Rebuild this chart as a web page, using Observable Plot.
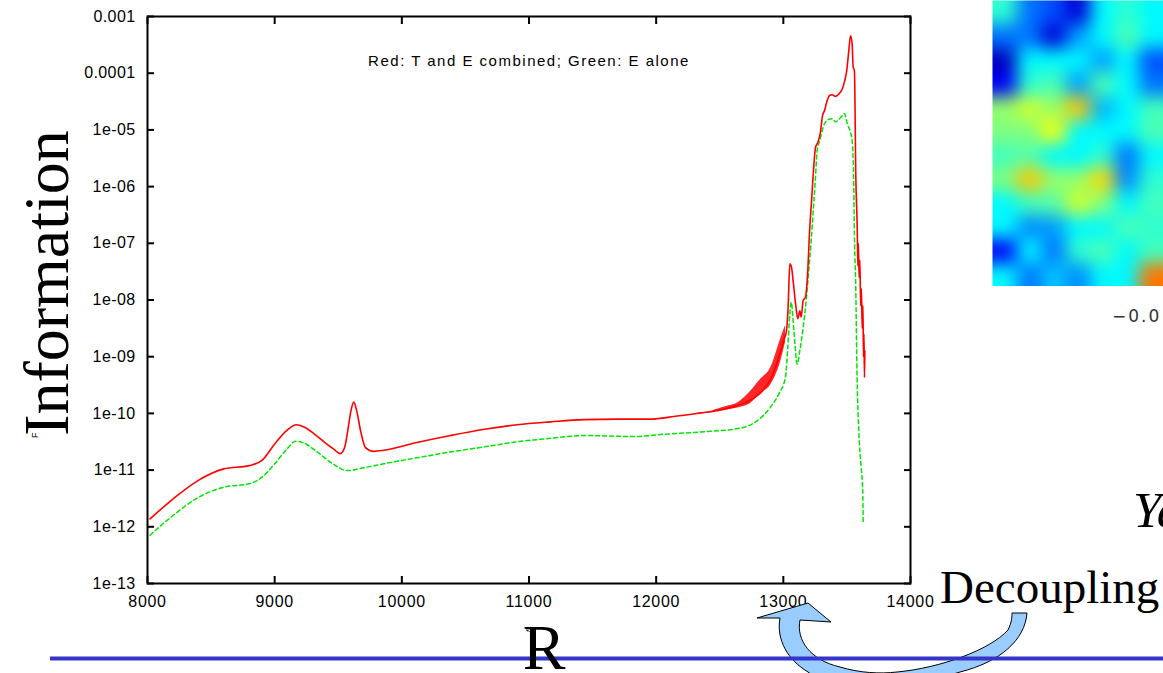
<!DOCTYPE html>
<html>
<head>
<meta charset="utf-8">
<script src="https://cdn.jsdelivr.net/npm/d3@7"></script>
<script src="https://cdn.jsdelivr.net/npm/@observablehq/plot@0.6"></script>
<style>
  html, body { margin: 0; padding: 0; background: #fff; }
  #page { position: relative; width: 1163px; height: 673px; overflow: hidden; background: #fff; }
  #main { position: absolute; left: 0; top: 0; }
  #heat { position: absolute; left: 992px; top: 0; }
  #overlay { position: absolute; left: 0; top: 0; }
  #main .legend-note text { letter-spacing: 1.5px; }
  #main g[aria-label="x-axis tick label"] text { letter-spacing: 0.7px; }
  #main g[aria-label="y-axis tick label"] text { letter-spacing: 0.4px; }
</style>
</head>
<body>
<div id="page">
  <div id="heat"></div>
  <div id="main"></div>
  <svg id="overlay" width="1163" height="673" viewBox="0 0 1163 673">
    <path d="M 1027 613 C 1025 640, 1000 662, 960 672 C 900 692, 830 692, 808 672 C 788 660, 776 640, 780 618 L 757 618 L 808 603 L 831 622 L 800 620 C 796 640, 810 660, 840 667 C 860 673, 880 674, 897 672 C 940 668, 990 650, 1008 630 C 1012 622, 1012 616, 1012 613 Z"
          fill="#99ccff" stroke="#000" stroke-width="1"/>
    <rect x="50" y="656.5" width="1113" height="4" fill="#3535c8"/>
    <text transform="translate(68,283) rotate(-90)" text-anchor="middle" font-family="'Liberation Serif', 'Times New Roman', serif" font-size="64" fill="#000">Information</text>
    <text transform="translate(38,438) rotate(-90)" font-family="'Liberation Sans', Arial, sans-serif" font-size="9" fill="#000">F</text>
    <text x="544" y="669" text-anchor="middle" font-family="'Liberation Serif', 'Times New Roman', serif" font-size="64" fill="#000">R</text>
    <text transform="translate(531,633) rotate(-70)" font-family="'Liberation Sans', Arial, sans-serif" font-size="8" fill="#000">f</text>
    <text x="940" y="603" font-family="'Liberation Serif', 'Times New Roman', serif" font-size="47" fill="#000">Decoupling</text>
    <text x="1133" y="527" font-family="'Liberation Serif', 'Times New Roman', serif" font-style="italic" font-size="51" fill="#000">Ya</text>
    <text x="1112" y="322" font-family="'DejaVu Sans', sans-serif" font-size="17" letter-spacing="2" fill="#333">−0.0</text>
  </svg>
</div>
<script>
// ---------- data ----------
const xTicks = [8000, 9000, 10000, 11000, 12000, 13000, 14000];
const yTicks = [1e-13, 1e-12, 1e-11, 1e-10, 1e-9, 1e-8, 1e-7, 1e-6, 1e-5, 1e-4, 1e-3];
const yTickLabels = ["1e-13", "1e-12", "1e-11", "1e-10", "1e-09", "1e-08", "1e-07", "1e-06", "1e-05", "0.0001", "0.001"];
const legendText = "Red: T and E combined; Green: E alone";

// Red: T and E combined
const redR = [8020, 8200, 8400, 8600, 8800, 8900, 9000, 9100, 9170, 9230, 9310, 9400, 9465, 9515, 9550, 9575, 9600, 9622, 9645, 9675, 9714, 9780, 9858, 10100, 10383, 10650, 10907, 11170, 11431, 11700, 11955, 12150, 12349, 12480, 12600, 12700, 12800, 12900, 12977, 13004, 13025, 13038, 13051, 13064, 13077, 13096, 13114, 13130, 13140, 13156, 13174, 13193, 13206, 13222, 13232, 13253, 13271, 13292, 13308, 13324, 13345, 13365, 13384, 13410, 13431, 13463, 13483, 13497, 13515, 13528, 13541, 13549, 13559, 13570, 13581, 13586, 13590, 13596, 13602, 13608, 13614, 13620, 13626, 13630, 13634, 13638, 13641];
const redV = [1.38e-12, 3.09e-12, 6.6e-12, 1.05e-11, 1.2e-11, 1.48e-11, 2.88e-11, 5.1e-11, 6.3e-11, 5.75e-11, 4.37e-11, 3.0e-11, 2.34e-11, 1.95e-11, 2.5e-11, 5.0e-11, 1.12e-10, 1.58e-10, 1.12e-10, 5.0e-11, 2.5e-11, 2.14e-11, 2.24e-11, 3.0e-11, 4.07e-11, 5.25e-11, 6.3e-11, 7.08e-11, 7.76e-11, 7.94e-11, 7.94e-11, 8.9e-11, 1.02e-10, 1.12e-10, 1.29e-10, 1.55e-10, 2.09e-10, 3.98e-10, 1.2e-9, 1.95e-9, 2.88e-9, 7.9e-9, 4.37e-8, 3.8e-8, 2.19e-8, 8.7e-9, 4.68e-9, 6.46e-9, 5.0e-9, 9.8e-9, 1.12e-8, 3.55e-8, 1.58e-7, 5.6e-7, 1.29e-6, 4.9e-6, 6.0e-6, 9.1e-6, 1.78e-5, 2.19e-5, 3.3e-5, 4.07e-5, 4.17e-5, 3.9e-5, 4.17e-5, 5.25e-5, 7.4e-5, 1.05e-4, 2.5e-4, 4.57e-4, 3.3e-4, 1.29e-4, 1.12e-4, 1.48e-6, 1.9e-7, 4.0e-8, 1.0e-7, 2.5e-8, 5.0e-8, 7.9e-9, 1.58e-8, 3.2e-9, 7.9e-9, 1.0e-9, 2.5e-9, 4.3e-10, 1.26e-9];

// Red oscillation envelope (dense sawtooth region)
const bandR = [12450, 12550, 12650, 12740, 12820, 12900, 12977, 13017];
const bandLow = [1.07e-10, 1.15e-10, 1.26e-10, 1.48e-10, 2.24e-10, 3.16e-10, 7.9e-10, 1.78e-9];
const bandHigh = [1.12e-10, 1.32e-10, 1.58e-10, 2.4e-10, 3.98e-10, 6.3e-10, 2.0e-9, 3.55e-9];

// Green: E alone
const greenR = [8020, 8200, 8400, 8600, 8800, 8890, 9000, 9100, 9165, 9230, 9334, 9465, 9570, 9700, 9858, 10100, 10383, 10650, 10907, 11170, 11431, 11650, 11824, 12050, 12349, 12663, 12794, 12899, 12964, 13017, 13035, 13051, 13062, 13083, 13109, 13130, 13156, 13182, 13200, 13219, 13239, 13253, 13266, 13287, 13313, 13345, 13384, 13410, 13431, 13463, 13481, 13502, 13528, 13541, 13554, 13559, 13570, 13578, 13594, 13612, 13624, 13628];
const greenV = [7.1e-13, 1.58e-12, 3.3e-12, 5.0e-12, 5.75e-12, 7.2e-12, 1.29e-11, 2.4e-11, 3.24e-11, 3.0e-11, 2.09e-11, 1.26e-11, 9.8e-12, 1.1e-11, 1.29e-11, 1.62e-11, 2.09e-11, 2.57e-11, 3.16e-11, 3.63e-11, 4.07e-11, 3.98e-11, 3.9e-11, 4.27e-11, 4.7e-11, 5.5e-11, 7.4e-11, 1.29e-10, 2.19e-10, 4.37e-10, 1.48e-9, 5.75e-9, 9.1e-9, 2.9e-9, 7.4e-10, 1.29e-9, 3.3e-9, 1.12e-8, 3.3e-8, 1.12e-7, 5.0e-7, 1.48e-6, 4.37e-6, 6.5e-6, 1.12e-5, 1.48e-5, 1.58e-5, 1.38e-5, 1.48e-5, 1.78e-5, 1.95e-5, 1.29e-5, 9.1e-6, 6.5e-6, 9.8e-7, 1.48e-7, 1.48e-8, 7.6e-10, 4.5e-11, 1.12e-11, 4.4e-12, 1.2e-12];

// Map fragment (top right), coarse grid of estimated field values (rows top to bottom)
const heatCols = 7;
const heatRowsCount = 12;
const heatRow0  = [0.42, 0.24, 0.20, 0.08, 0.37, 0.42, 0.37];
const heatRow1  = [0.24, 0.24, 0.08, 0.28, 0.37, 0.45, 0.37];
const heatRow2  = [0.05, 0.37, 0.37, 0.37, 0.28, 0.37, 0.20];
const heatRow3  = [0.12, 0.42, 0.45, 0.28, 0.45, 0.37, 0.24];
const heatRow4  = [0.52, 0.58, 0.52, 0.68, 0.30, 0.37, 0.44];
const heatRow5  = [0.50, 0.50, 0.62, 0.37, 0.37, 0.37, 0.45];
const heatRow6  = [0.44, 0.46, 0.37, 0.37, 0.42, 0.24, 0.37];
const heatRow7  = [0.50, 0.68, 0.52, 0.52, 0.66, 0.26, 0.42];
const heatRow8  = [0.37, 0.44, 0.46, 0.58, 0.50, 0.37, 0.44];
const heatRow9  = [0.37, 0.26, 0.28, 0.37, 0.37, 0.45, 0.42];
const heatRow10 = [0.12, 0.37, 0.24, 0.42, 0.45, 0.37, 0.44];
const heatRow11 = [0.37, 0.24, 0.32, 0.26, 0.37, 0.37, 0.76];

// ---------- tables ----------
const red = redR.map((r, i) => ({r, v: redV[i]}));
const green = greenR.map((r, i) => ({r, v: greenV[i]}));
const band = bandR.map((r, i) => ({r, lo: bandLow[i], hi: bandHigh[i]}));
const heatRows = [heatRow0, heatRow1, heatRow2, heatRow3, heatRow4, heatRow5, heatRow6, heatRow7, heatRow8, heatRow9, heatRow10, heatRow11];
const heatPoints = heatRows.flatMap((row, j) => row.map((v, i) => ({cx: i + 0.5, cy: j + 0.5, v})));
const yLabel = new Map(yTicks.map((t, i) => [t, yTickLabels[i]]));

// ---------- main chart ----------
const font = "'Liberation Sans', Arial, Helvetica, sans-serif";
const chart = Plot.plot({
  width: 930,
  height: 620,
  marginLeft: 147,
  marginRight: 20,
  marginTop: 16,
  marginBottom: 37,
  style: {fontFamily: font, fontSize: "16px", background: "transparent", color: "#000", overflow: "visible"},
  x: {domain: [8000, 14000], label: null},
  y: {type: "log", domain: [1e-13, 1e-3], label: null},
  marks: [
    Plot.areaY(band, {x: "r", y1: "lo", y2: "hi", fill: "#ff0000", fillOpacity: 0.85, curve: "monotone-x"}),
    Plot.line(green, {x: "r", y: "v", stroke: "#00e600", strokeWidth: 1.5, strokeDasharray: "4,3", curve: "monotone-x"}),
    Plot.line(red, {x: "r", y: "v", stroke: "#ff0000", strokeWidth: 1.6, curve: "monotone-x"}),
    Plot.axisX({anchor: "bottom", ticks: xTicks, tickSize: -7, tickPadding: 19, strokeWidth: 2, fontSize: 16, tickFormat: d => String(d), label: null}),
    Plot.axisX({anchor: "top", ticks: xTicks, tickSize: -7, strokeWidth: 2, tickFormat: () => "", label: null}),
    Plot.axisY({anchor: "left", ticks: yTicks, tickSize: -7, tickPadding: 19, strokeWidth: 2, fontSize: 16, tickFormat: d => yLabel.get(d) ?? "", label: null}),
    Plot.axisY({anchor: "right", ticks: yTicks, tickSize: -7, strokeWidth: 2, tickFormat: () => "", label: null}),
    Plot.frame({stroke: "#000", strokeWidth: 2}),
    Plot.text([legendText], {frameAnchor: "top", dy: 45, lineAnchor: "middle", text: d => d, fontSize: 15, fill: "#000", className: "legend-note"})
  ]
});
document.getElementById("main").appendChild(chart);

// ---------- map fragment ----------
const heat = Plot.plot({
  width: 175,
  height: 293,
  margin: 0,
  x: {domain: [0, heatCols], axis: null},
  y: {domain: [0, heatRowsCount], axis: null, reverse: true},
  color: {type: "linear", domain: [0, 0.125, 0.375, 0.625, 0.875, 1], range: ["#00008f", "#0000ff", "#00ffff", "#ffff00", "#ff0000", "#800000"]},
  style: {background: "transparent"},
  marks: [
    Plot.raster(heatPoints, {x: "cx", y: "cy", fill: "v", x1: 0, x2: heatCols, y1: 0, y2: heatRowsCount, interpolate: "nearest", pixelSize: 1, blur: 8})
  ]
});
document.getElementById("heat").appendChild(heat);
</script>
</body>
</html>
